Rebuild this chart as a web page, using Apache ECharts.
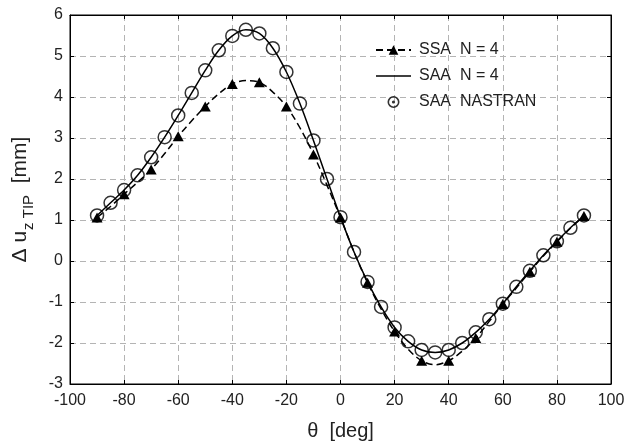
<!DOCTYPE html>
<html>
<head>
<meta charset="utf-8">
<script src="https://cdn.jsdelivr.net/npm/echarts@6/dist/echarts.min.js"></script>
<style>
html,body{margin:0;padding:0;background:#fff;}
#chart{width:641px;height:446px;}
</style>
</head>
<body>
<div id="chart"></div>
<script>
// θ [deg] at 5° steps
var theta = [-90,-85,-80,-75,-70,-65,-60,-55,-50,-45,-40,-35,-30,-25,-20,-15,-10,-5,0,5,10,15,20,25,30,35,40,45,50,55,60,65,70,75,80,85,90];
// SSA N = 4 (dashed curve), markers at every 10°
var ssaN4 = [1.06,1.33,1.63,1.92,2.23,2.62,3.04,3.42,3.77,4.08,4.32,4.40,4.36,4.12,3.77,3.25,2.60,1.85,1.06,0.22,-0.53,-1.17,-1.72,-2.15,-2.43,-2.53,-2.43,-2.20,-1.88,-1.47,-1.05,-0.66,-0.26,0.12,0.47,0.80,1.10];
// SAA N = 4 (solid curve)
var saaN4 = [1.11,1.42,1.73,2.09,2.53,3.02,3.55,4.10,4.65,5.14,5.49,5.64,5.55,5.19,4.61,3.84,2.94,2.00,1.07,0.22,-0.51,-1.12,-1.62,-1.96,-2.17,-2.23,-2.17,-2.00,-1.74,-1.42,-1.04,-0.63,-0.24,0.14,0.48,0.81,1.11];
// SAA NASTRAN (circles)
var saaNastran = [1.11,1.42,1.73,2.09,2.53,3.02,3.55,4.10,4.65,5.14,5.49,5.64,5.55,5.19,4.61,3.84,2.94,2.00,1.07,0.22,-0.51,-1.12,-1.62,-1.96,-2.17,-2.23,-2.17,-2.00,-1.74,-1.42,-1.04,-0.63,-0.24,0.14,0.48,0.81,1.11];
var seriesNames = ['SSA  N = 4', 'SAA  N = 4', 'SAA  NASTRAN'];
var ssaMarkerStep = 10;

var FONT = '"Liberation Sans", Arial, Helvetica, sans-serif';
var chart = echarts.init(document.getElementById('chart'), null, {renderer:'canvas'});

var ssaData = theta.map(function(t, i){
  var item = {value:[t, ssaN4[i]]};
  if (t % ssaMarkerStep !== 0) item.symbol = 'none';
  return item;
});
var saaData = theta.map(function(t, i){ return [t, saaN4[i]]; });
var nasData = theta.map(function(t, i){ return [t, saaNastran[i]]; });

var gridLine = {show:true, lineStyle:{color:'#b4b4b4', type:[6,4], width:1}};
var ringIcon = 'path://M0,-6A6,6,0,1,1,0,6A6,6,0,1,1,0,-6ZM0,-4.4A4.4,4.4,0,1,0,0,4.4A4.4,4.4,0,1,0,0,-4.4ZM0,-1.6A1.6,1.6,0,1,1,0,1.6A1.6,1.6,0,1,1,0,-1.6Z';
var lineIcon = 'path://M0,0H35V1.6H0Z';

var option = {
  backgroundColor:'#fff',
  animation:false,
  grid:{left:70, right:30, top:15, bottom:61, show:true, borderColor:'#000', borderWidth:1, backgroundColor:'transparent'},
  legend:{
    orient:'vertical', left:375, top:41, padding:0, itemWidth:35, itemHeight:12, itemGap:8,
    textStyle:{fontFamily:FONT, fontSize:16, lineHeight:18, height:18, color:'#222', padding:[0,0,0,3]},
    data:[
      {name:seriesNames[0]},
      {name:seriesNames[1], icon:lineIcon, itemStyle:{color:'#000', borderWidth:0}},
      {name:seriesNames[2], icon:ringIcon, itemStyle:{color:'#000', borderWidth:0}}
    ]
  },
  xAxis:[{
    type:'value', min:-100, max:100, interval:20,
    name:'θ  [deg]', nameLocation:'middle', nameGap:37,
    nameTextStyle:{fontFamily:FONT, fontSize:20, color:'#222'},
    axisLine:{show:true, onZero:false, lineStyle:{color:'#000', width:1}},
    axisTick:{show:true, inside:true, length:4, lineStyle:{color:'#000'}},
    axisLabel:{fontFamily:FONT, fontSize:16, color:'#222', margin:9},
    splitLine:gridLine
  },{
    type:'value', min:-100, max:100, interval:20, position:'top',
    axisLine:{show:true, onZero:false, lineStyle:{color:'#000'}},
    axisTick:{show:true, inside:true, length:4, lineStyle:{color:'#000'}},
    axisLabel:{show:false}, splitLine:{show:false}
  }],
  yAxis:[{
    type:'value', min:-3, max:6, interval:1,
    name:'{m|Δ u}{s|z TIP}{m|  [mm]}', nameLocation:'middle', nameGap:37, nameRotate:90,
    nameTextStyle:{fontFamily:FONT, fontSize:21, color:'#222',
      rich:{
        m:{fontFamily:FONT, fontSize:21, color:'#222', lineHeight:26},
        s:{fontFamily:FONT, fontSize:15, color:'#222', lineHeight:26, verticalAlign:'bottom', padding:[0,0,-3,1]}
      }},
    axisLine:{show:true, onZero:false, lineStyle:{color:'#000', width:1}},
    axisTick:{show:true, inside:true, length:4, lineStyle:{color:'#000'}},
    axisLabel:{fontFamily:FONT, fontSize:16, color:'#222', margin:7},
    splitLine:gridLine
  },{
    type:'value', min:-3, max:6, interval:1, position:'right',
    axisLine:{show:true, onZero:false, lineStyle:{color:'#000'}},
    axisTick:{show:true, inside:true, length:4, lineStyle:{color:'#000'}},
    axisLabel:{show:false}, splitLine:{show:false}
  }],
  series:[
    {
      name:seriesNames[0], type:'line', data:ssaData, smooth:0.35,
      symbol:'triangle', symbolSize:[11,10], showAllSymbol:true,
      lineStyle:{color:'#000', width:1.5, type:[7,4]},
      itemStyle:{color:'#000'}, z:3
    },
    {
      name:seriesNames[1], type:'line', data:saaData, smooth:0.35,
      symbol:'none',
      lineStyle:{color:'#000', width:1.5},
      itemStyle:{color:'#000'}, z:2
    },
    {
      name:seriesNames[2], type:'scatter', data:nasData,
      symbol:'circle', symbolSize:13,
      itemStyle:{color:'rgba(0,0,0,0)', borderColor:'#000', borderWidth:1.5}, z:4
    }
  ]
};
chart.setOption(option);
</script>
</body>
</html>
